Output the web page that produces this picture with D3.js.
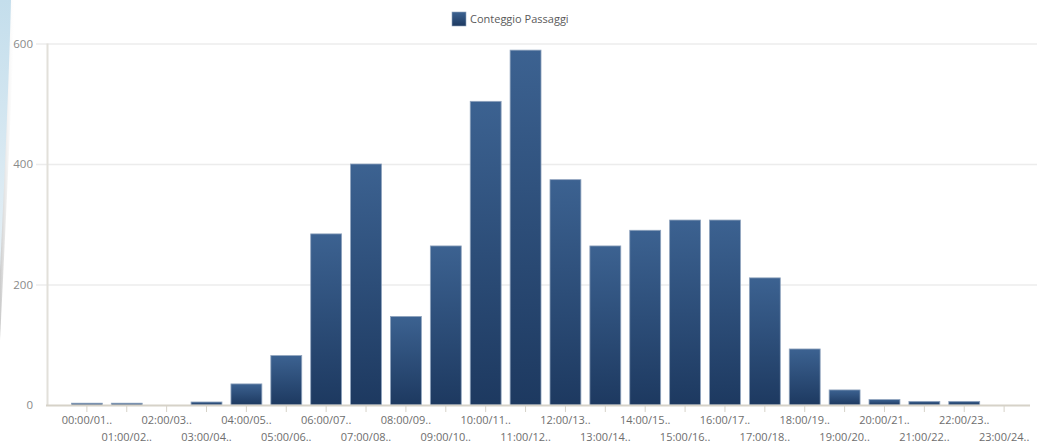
<!DOCTYPE html>
<html><head><meta charset="utf-8">
<script src="https://cdn.jsdelivr.net/npm/d3@7"></script>
<style>
html,body{margin:0;padding:0;background:#fff;}
svg{display:block;font-family:"Open Sans","DejaVu Sans",sans-serif;}
</style></head>
<body><svg id="c" width="1037" height="444"></svg>
<script>
const categories = ["00:00/01..","01:00/02..","02:00/03..","03:00/04..","04:00/05..","05:00/06..","06:00/07..","07:00/08..","08:00/09..","09:00/10..","10:00/11..","11:00/12..","12:00/13..","13:00/14..","14:00/15..","15:00/16..","16:00/17..","17:00/18..","18:00/19..","19:00/20..","20:00/21..","21:00/22..","22:00/23..","23:00/24.."];
const values = [3,3,0,5,35,82,284,400,147,264,504,589,374,264,290,307,307,211,93,25,9,6,6,0];
const yTicks = [0,200,400,600];
const seriesName = "Conteggio Passaggi";

const svg = d3.select("#c");
const W = 1037, H = 444;
const x = d3.scaleBand().domain(categories).range([47, 1044]).paddingInner(0.2).paddingOuter(0.6);
const y = d3.scaleLinear().domain([0, 600]).range([405, 43.5]);

const defs = svg.append("defs");
const g = defs.append("linearGradient").attr("id","bg").attr("x1",0).attr("y1",0).attr("x2",0).attr("y2",1);
g.append("stop").attr("offset","0%").attr("stop-color","#3c6291");
g.append("stop").attr("offset","100%").attr("stop-color","#1d3960");
const lg = defs.append("linearGradient").attr("id","lb").attr("x1",0).attr("y1",0).attr("x2",0).attr("y2",1);
lg.append("stop").attr("offset","0%").attr("stop-color","#c4deec");
lg.append("stop").attr("offset","100%").attr("stop-color","#e6f0f6");
const sh = defs.append("linearGradient").attr("id","sh").attr("x1",0).attr("y1",0).attr("x2",1).attr("y2",0);
sh.append("stop").attr("offset","0%").attr("stop-color","#bdbdbd");
sh.append("stop").attr("offset","100%").attr("stop-color","#ffffff").attr("stop-opacity",0);

// left decoration
svg.append("path").attr("d","M0,0 L15,0 C13,60 9,160 0,340 Z").attr("fill","url(#sh)").attr("opacity",0.8);
svg.append("path").attr("d","M0,0 L11,0 C10,40 7,130 0,270 Z").attr("fill","url(#lb)");

// gridlines
svg.append("g").selectAll("line").data(yTicks.filter(d=>d>0)).join("line")
  .attr("x1",36).attr("x2",W).attr("y1",d=>y(d)+0.5).attr("y2",d=>y(d)+0.5)
  .attr("stroke","#ececec").attr("stroke-width",1.5);

// y labels
svg.append("g").selectAll("text").data(yTicks).join("text")
  .attr("x",33).attr("y",d=>y(d)).attr("dy","0.35em").attr("text-anchor","end")
  .attr("fill","#8a8a8a").attr("font-size",11.5).text(d=>d);

// y axis line
svg.append("line").attr("x1",47.5).attr("x2",47.5).attr("y1",y(600)).attr("y2",y(0))
  .attr("stroke","#e2e0da").attr("stroke-width",2);

// bars
svg.append("g").selectAll("rect").data(values.map((v,i)=>({c:categories[i],v}))).join("rect")
  .filter(d=>d.v>0)
  .attr("x",d=>x(d.c)+0.5).attr("width",x.bandwidth()-1)
  .attr("y",d=>y(d.v)).attr("height",d=>y(0)-y(d.v))
  .attr("fill","url(#bg)").attr("stroke","#8fa3bd").attr("stroke-width",0.8);

// x axis
const xa = svg.append("g").attr("transform",`translate(0,${y(0)})`);
xa.append("line").attr("x1",46).attr("x2",1030).attr("y1",0.5).attr("y2",0.5)
  .attr("stroke","#d6d2c8").attr("stroke-width",2);
xa.selectAll("line.t").data(categories).join("line").attr("class","t")
  .attr("x1",d=>x(d)+x.bandwidth()/2).attr("x2",d=>x(d)+x.bandwidth()/2)
  .attr("y1",1).attr("y2",7).attr("stroke","#d6d2c8").attr("stroke-width",1);
xa.selectAll("text").data(categories).join("text")
  .attr("x",d=>x(d)+x.bandwidth()/2)
  .attr("y",(d,i)=> i%2===0 ? 19 : 36)
  .attr("text-anchor","middle").attr("fill","#6e6e6e").attr("font-size",11)
  .text(d=>d);

// legend
const leg = svg.append("g").attr("transform","translate(452,12)");
leg.append("rect").attr("width",14).attr("height",14).attr("fill","url(#bg)").attr("stroke","#8fa3bd").attr("stroke-width",0.6);
leg.append("text").attr("x",18).attr("y",7).attr("dy","0.35em").attr("fill","#5a5a5a").attr("font-size",11).text(seriesName);
</script></body></html>
